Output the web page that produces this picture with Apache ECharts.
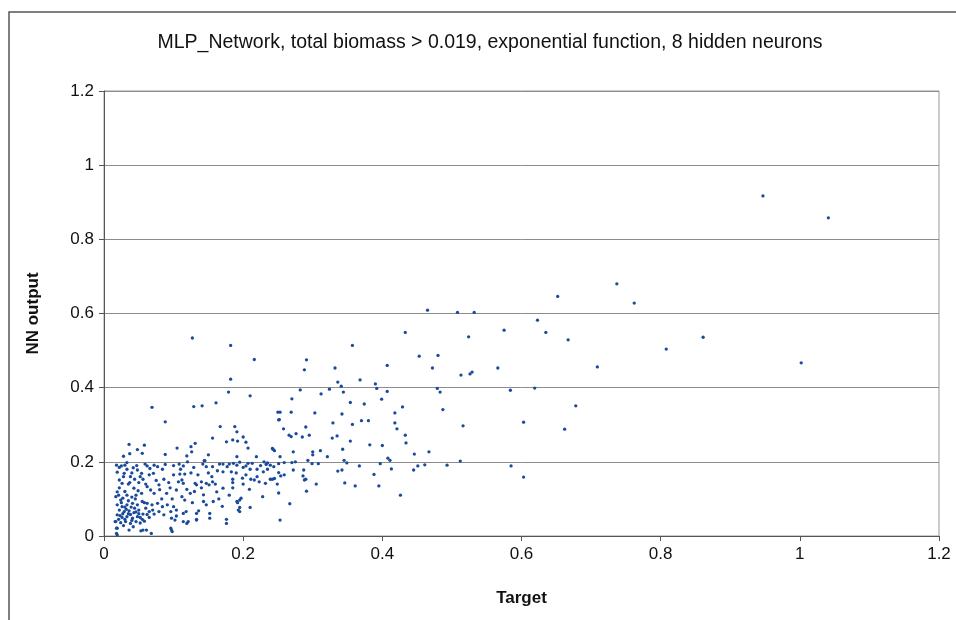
<!DOCTYPE html>
<html>
<head>
<meta charset="utf-8">
<script src="https://cdn.jsdelivr.net/npm/echarts@6/dist/echarts.min.js"></script>
<style>html,body{margin:0;padding:0;background:#fff;}#c{width:956px;height:620px;}</style>
</head>
<body>
<div id="c"></div>
<script>
var titleText = "MLP_Network, total biomass > 0.019, exponential function, 8 hidden neurons";
var xName = "Target";
var yName = "NN output";
var xTicks = [0, 0.2, 0.4, 0.6, 0.8, 1, 1.2];
var yTicks = [0, 0.2, 0.4, 0.6, 0.8, 1, 1.2];

// [Target, NN output]
var highRange = [[0.947,0.917],[1.041,0.858],[0.737,0.680],[0.762,0.628],[0.861,0.536],[0.808,0.504],[0.709,0.456],[1.002,0.467],
[0.652,0.646],[0.508,0.603],[0.532,0.603],[0.623,0.582],[0.575,0.555],[0.635,0.549],[0.524,0.537],[0.667,0.529],[0.566,0.453],[0.513,0.434],[0.526,0.437],[0.529,0.442],[0.483,0.388],[0.584,0.393],[0.619,0.399],[0.487,0.341],[0.678,0.351],[0.516,0.297],[0.603,0.307],[0.662,0.288],[0.493,0.191],[0.512,0.202],[0.585,0.189],[0.603,0.159],[0.465,0.609],[0.453,0.485],[0.480,0.487],[0.472,0.453],[0.479,0.398],[0.467,0.227],[0.451,0.189],[0.461,0.192]];

var midRange = [[0.433,0.549],[0.357,0.514],[0.291,0.475],[0.288,0.448],[0.332,0.453],[0.407,0.460],[0.282,0.394],[0.336,0.415],[0.341,0.404],[0.344,0.388],[0.324,0.396],[0.312,0.383],[0.368,0.421],[0.390,0.410],[0.392,0.398],[0.407,0.390],[0.399,0.369],[0.270,0.370],[0.354,0.360],[0.374,0.356],[0.429,0.348],[0.250,0.334],[0.253,0.334],[0.269,0.334],[0.303,0.332],[0.342,0.329],[0.418,0.332],[0.252,0.314],[0.329,0.305],[0.357,0.301],[0.370,0.311],[0.380,0.311],[0.418,0.305],[0.258,0.289],[0.290,0.294],[0.421,0.289],[0.266,0.272],[0.269,0.268],[0.276,0.276],[0.285,0.267],[0.295,0.272],[0.328,0.264],[0.335,0.270],[0.433,0.272],[0.354,0.256],[0.434,0.251],[0.382,0.246],[0.400,0.244],[0.243,0.234],[0.272,0.227],[0.300,0.227],[0.311,0.230],[0.343,0.234],[0.253,0.214],[0.300,0.219],[0.321,0.214],[0.446,0.221],[0.239,0.191],[0.244,0.187],[0.251,0.195],[0.259,0.198],[0.270,0.198],[0.275,0.200],[0.293,0.204],[0.299,0.195],[0.308,0.195],[0.345,0.204],[0.349,0.197],[0.397,0.195],[0.408,0.210],[0.411,0.204],[0.239,0.153],[0.242,0.153],[0.245,0.155],[0.249,0.140],[0.254,0.162],[0.259,0.165],[0.272,0.178],[0.286,0.162],[0.288,0.151],[0.290,0.153],[0.287,0.178],[0.305,0.140],[0.336,0.175],[0.342,0.178],[0.346,0.143],[0.367,0.189],[0.388,0.166],[0.413,0.181],[0.445,0.178],[0.361,0.135],[0.395,0.135],[0.251,0.116],[0.291,0.121],[0.267,0.087],[0.253,0.043],[0.426,0.110],[0.245,0.230],[0.251,0.171],[0.242,0.236],[0.251,0.313]];

var lowUpper = [[0.127,0.534],[0.182,0.514],[0.216,0.476],[0.182,0.423],[0.179,0.388],[0.210,0.378],[0.069,0.347],[0.129,0.349],[0.141,0.351],[0.161,0.359],[0.088,0.308],[0.167,0.295],[0.188,0.295],[0.191,0.281],[0.200,0.267],[0.156,0.264],[0.176,0.254],[0.185,0.259],[0.192,0.256],[0.204,0.253],[0.207,0.237],[0.036,0.247],[0.058,0.245],[0.048,0.233],[0.055,0.223],[0.037,0.222],[0.028,0.215],[0.088,0.220],[0.105,0.237],[0.125,0.241],[0.131,0.250],[0.126,0.227],[0.150,0.219],[0.191,0.214],[0.219,0.214],[0.144,0.203],[0.119,0.216],[0.033,0.198],[0.145,0.203],[0.195,0.199]];

var denseLeft = [[0.018,0.191],[0.022,0.185],[0.025,0.189],[0.030,0.191],[0.033,0.180],[0.019,0.172],[0.029,0.169],[0.042,0.184],[0.048,0.178],[0.054,0.169],[0.059,0.194],[0.062,0.189],[0.066,0.182],[0.072,0.191],[0.077,0.187],[0.084,0.180],[0.088,0.193],[0.071,0.169],[0.038,0.160],[0.044,0.153],[0.037,0.144],[0.050,0.144],[0.056,0.153],[0.022,0.151],[0.026,0.142],[0.049,0.122],[0.043,0.129],[0.054,0.115],[0.062,0.133],[0.067,0.124],[0.072,0.115],[0.079,0.138],[0.086,0.153],[0.093,0.144],[0.019,0.119],[0.017,0.106],[0.024,0.097],[0.019,0.084],[0.026,0.079],[0.033,0.084],[0.041,0.088],[0.048,0.084],[0.055,0.093],[0.062,0.088],[0.069,0.084],[0.077,0.088],[0.084,0.079],[0.091,0.084],[0.022,0.070],[0.029,0.066],[0.036,0.068],[0.043,0.063],[0.050,0.070],[0.056,0.059],[0.065,0.066],[0.072,0.059],[0.079,0.066],[0.086,0.057],[0.096,0.066],[0.019,0.057],[0.026,0.050],[0.033,0.052],[0.041,0.048],[0.048,0.052],[0.017,0.039],[0.024,0.036],[0.031,0.039],[0.038,0.034],[0.046,0.039],[0.019,0.021],[0.036,0.016],[0.053,0.014],[0.061,0.016],[0.019,0.003],[0.096,0.021],[0.098,0.012],
[0.021,0.045],[0.027,0.060],[0.032,0.072],[0.038,0.058],[0.044,0.075],[0.050,0.060],[0.055,0.045],[0.060,0.075],[0.025,0.090],[0.035,0.095],[0.045,0.100],[0.028,0.028],[0.042,0.025],[0.052,0.035],[0.058,0.090],[0.065,0.050],[0.070,0.070],[0.022,0.130],[0.030,0.120],[0.035,0.140],[0.028,0.160],[0.040,0.170],[0.047,0.190],[0.052,0.160],[0.060,0.140],[0.065,0.165],[0.075,0.150],[0.080,0.125],[0.083,0.100],[0.090,0.115],[0.095,0.130],[0.098,0.100],[0.018,0.007],[0.018,0.021],[0.016,0.039],[0.056,0.016],[0.068,0.007],
[0.023,0.055],[0.030,0.045],[0.035,0.060],[0.040,0.042],[0.046,0.065],[0.052,0.050],[0.058,0.040],[0.030,0.078],[0.039,0.078],[0.062,0.058],[0.021,0.110],[0.027,0.102],[0.033,0.110],[0.040,0.105],[0.046,0.110]];

var denseRight = [[0.108,0.194],[0.114,0.189],[0.129,0.185],[0.142,0.194],[0.147,0.187],[0.156,0.187],[0.166,0.194],[0.171,0.194],[0.177,0.187],[0.180,0.194],[0.186,0.196],[0.191,0.191],[0.163,0.176],[0.171,0.173],[0.183,0.173],[0.100,0.165],[0.109,0.167],[0.116,0.167],[0.112,0.151],[0.107,0.146],[0.114,0.142],[0.131,0.142],[0.133,0.138],[0.140,0.146],[0.147,0.142],[0.151,0.138],[0.156,0.146],[0.171,0.129],[0.185,0.153],[0.185,0.144],[0.104,0.124],[0.119,0.126],[0.124,0.115],[0.143,0.111],[0.162,0.119],[0.112,0.106],[0.116,0.097],[0.127,0.090],[0.143,0.093],[0.147,0.084],[0.157,0.093],[0.191,0.093],[0.100,0.079],[0.104,0.070],[0.118,0.066],[0.136,0.068],[0.152,0.061],[0.097,0.048],[0.102,0.043],[0.104,0.054],[0.114,0.039],[0.121,0.039],[0.133,0.043],[0.176,0.045],[0.176,0.034],[0.097,0.016],
[0.207,0.196],[0.213,0.196],[0.204,0.189],[0.235,0.180],[0.229,0.173],[0.204,0.165],[0.199,0.156],[0.211,0.153],[0.216,0.151],[0.223,0.146],[0.232,0.142],[0.209,0.126],[0.228,0.106],[0.197,0.102],[0.192,0.090],[0.195,0.077],[0.195,0.066],[0.210,0.077],
[0.200,0.185],[0.220,0.180],[0.233,0.193],[0.235,0.197],[0.195,0.097],[0.193,0.070],[0.152,0.048],[0.133,0.061],[0.133,0.045],[0.119,0.034],[0.114,0.061],
[0.100,0.190],[0.110,0.180],[0.120,0.200],[0.125,0.170],[0.135,0.165],[0.130,0.120],[0.140,0.130],[0.150,0.170],[0.155,0.160],[0.160,0.140],[0.165,0.100],[0.170,0.080],[0.180,0.110],[0.185,0.130],[0.190,0.170],[0.200,0.140],[0.210,0.180],[0.220,0.160],[0.225,0.190],[0.230,0.200]];

var allPoints = highRange.concat(midRange, lowUpper, denseLeft, denseRight);

var chart = echarts.init(document.getElementById('c'), null, {renderer: 'canvas'});
var FONT = 'Liberation Sans';
chart.setOption({
  backgroundColor: '#ffffff',
  animation: false,
  title: {
    text: titleText, left: 485, top: 28, textAlign: 'center',
    textStyle: {fontFamily: FONT, fontSize: 19.5, fontWeight: 'normal', color: '#111'}
  },
  graphic: [{
    type: 'rect', shape: {x: 9, y: 12, width: 1000, height: 700}, silent: true, z: -10,
    style: {fill: 'none', stroke: '#555', lineWidth: 1.5}
  }],
  grid: {left: 104, right: 17, top: 91, bottom: 84, show: true, borderColor: '#999', borderWidth: 1, backgroundColor: 'transparent'},
  xAxis: {
    type: 'value', min: xTicks[0], max: xTicks[xTicks.length - 1], interval: 0.2,
    name: xName, nameLocation: 'middle', nameGap: 54,
    nameTextStyle: {fontFamily: FONT, fontSize: 17, fontWeight: 'bold', color: '#111'},
    axisLine: {show: true, onZero: false, lineStyle: {color: '#555', width: 1}},
    axisTick: {show: true, inside: false, length: 5, lineStyle: {color: '#555'}},
    axisLabel: {fontFamily: FONT, fontSize: 17, color: '#111', margin: 10},
    splitLine: {show: false}
  },
  yAxis: {
    type: 'value', min: yTicks[0], max: yTicks[yTicks.length - 1], interval: 0.2,
    name: yName, nameLocation: 'middle', nameGap: 62, nameRotate: 90,
    nameTextStyle: {fontFamily: FONT, fontSize: 17, fontWeight: 'bold', color: '#111'},
    axisLine: {show: true, onZero: false, lineStyle: {color: '#555', width: 1}},
    axisTick: {show: true, inside: false, length: 5, lineStyle: {color: '#555'}},
    axisLabel: {fontFamily: FONT, fontSize: 17, color: '#111', margin: 10},
    splitLine: {show: true, lineStyle: {color: '#8c8c8c', width: 1}}
  },
  series: [{
    type: 'scatter', data: allPoints, symbol: 'circle', symbolSize: 3.3,
    itemStyle: {color: '#1a4a9a', opacity: 1}
  }]
});
</script>
</body>
</html>
